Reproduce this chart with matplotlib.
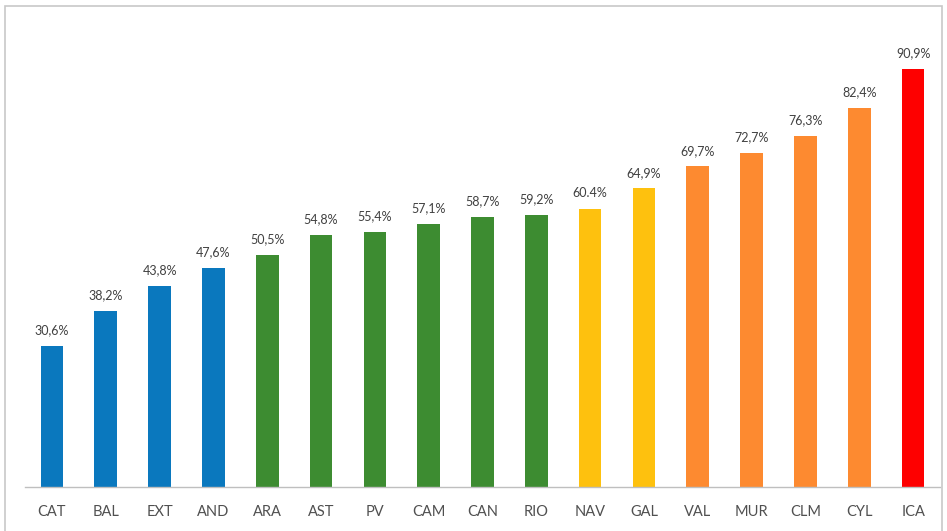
import matplotlib.pyplot as plt
from matplotlib.patches import Rectangle

regiones = ['CAT', 'BAL', 'EXT', 'AND', 'ARA', 'AST', 'PV', 'CAM', 'CAN',
            'RIO', 'NAV', 'GAL', 'VAL', 'MUR', 'CLM', 'CYL', 'ICA']
valores = [30.6, 38.2, 43.8, 47.6, 50.5, 54.8, 55.4, 57.1, 58.7,
           59.2, 60.4, 64.9, 69.7, 72.7, 76.3, 82.4, 90.9]
etiquetas = ['30,6%', '38,2%', '43,8%', '47,6%', '50,5%', '54,8%', '55,4%',
             '57,1%', '58,7%', '59,2%', '60.4%', '64,9%', '69,7%', '72,7%',
             '76,3%', '82,4%', '90,9%']
grupos = ['azul'] * 4 + ['verde'] * 6 + ['amarillo'] * 2 + ['naranja'] * 4 + ['rojo']

paleta = {'azul': '#0a78be', 'verde': '#3d8c31', 'amarillo': '#fec10e',
          'naranja': '#fd8a30', 'rojo': '#fe0000'}

plt.rcParams['font.family'] = ['Lato', 'DejaVu Sans']

fig = plt.figure(figsize=(9.47, 5.31), dpi=100)
ax = fig.add_axes([25 / 947, 1 - 487 / 531, 915 / 947, 460 / 531])

x = range(len(regiones))
colores = [paleta[g] for g in grupos]
barras = ax.bar(x, valores, width=0.42, color=colores)

for b, txt in zip(barras, etiquetas):
    ax.annotate(txt, (b.get_x() + b.get_width() / 2, b.get_height()),
                xytext=(0, 7), textcoords='offset points',
                ha='center', va='bottom', fontsize=9, color='#404040')

ax.set_xlim(-0.5, len(regiones) - 0.5)
ax.set_ylim(0, 100)
ax.set_xticks(list(x))
ax.set_xticklabels(regiones, fontsize=10.5, color='#505050')
ax.tick_params(axis='x', length=0, pad=13)
ax.set_yticks([])
for s in ['top', 'right', 'left']:
    ax.spines[s].set_visible(False)
ax.spines['bottom'].set_color('#bfbfbf')
ax.spines['bottom'].set_linewidth(1)

# marco del gráfico
fig.patches.append(Rectangle((5 / 947, -0.05), 937 / 947, 1 - 6 / 531 + 0.05,
                             transform=fig.transFigure, fill=False,
                             edgecolor='#c8c8c8', linewidth=1.2))

fig.savefig('out.png', dpi=100)
